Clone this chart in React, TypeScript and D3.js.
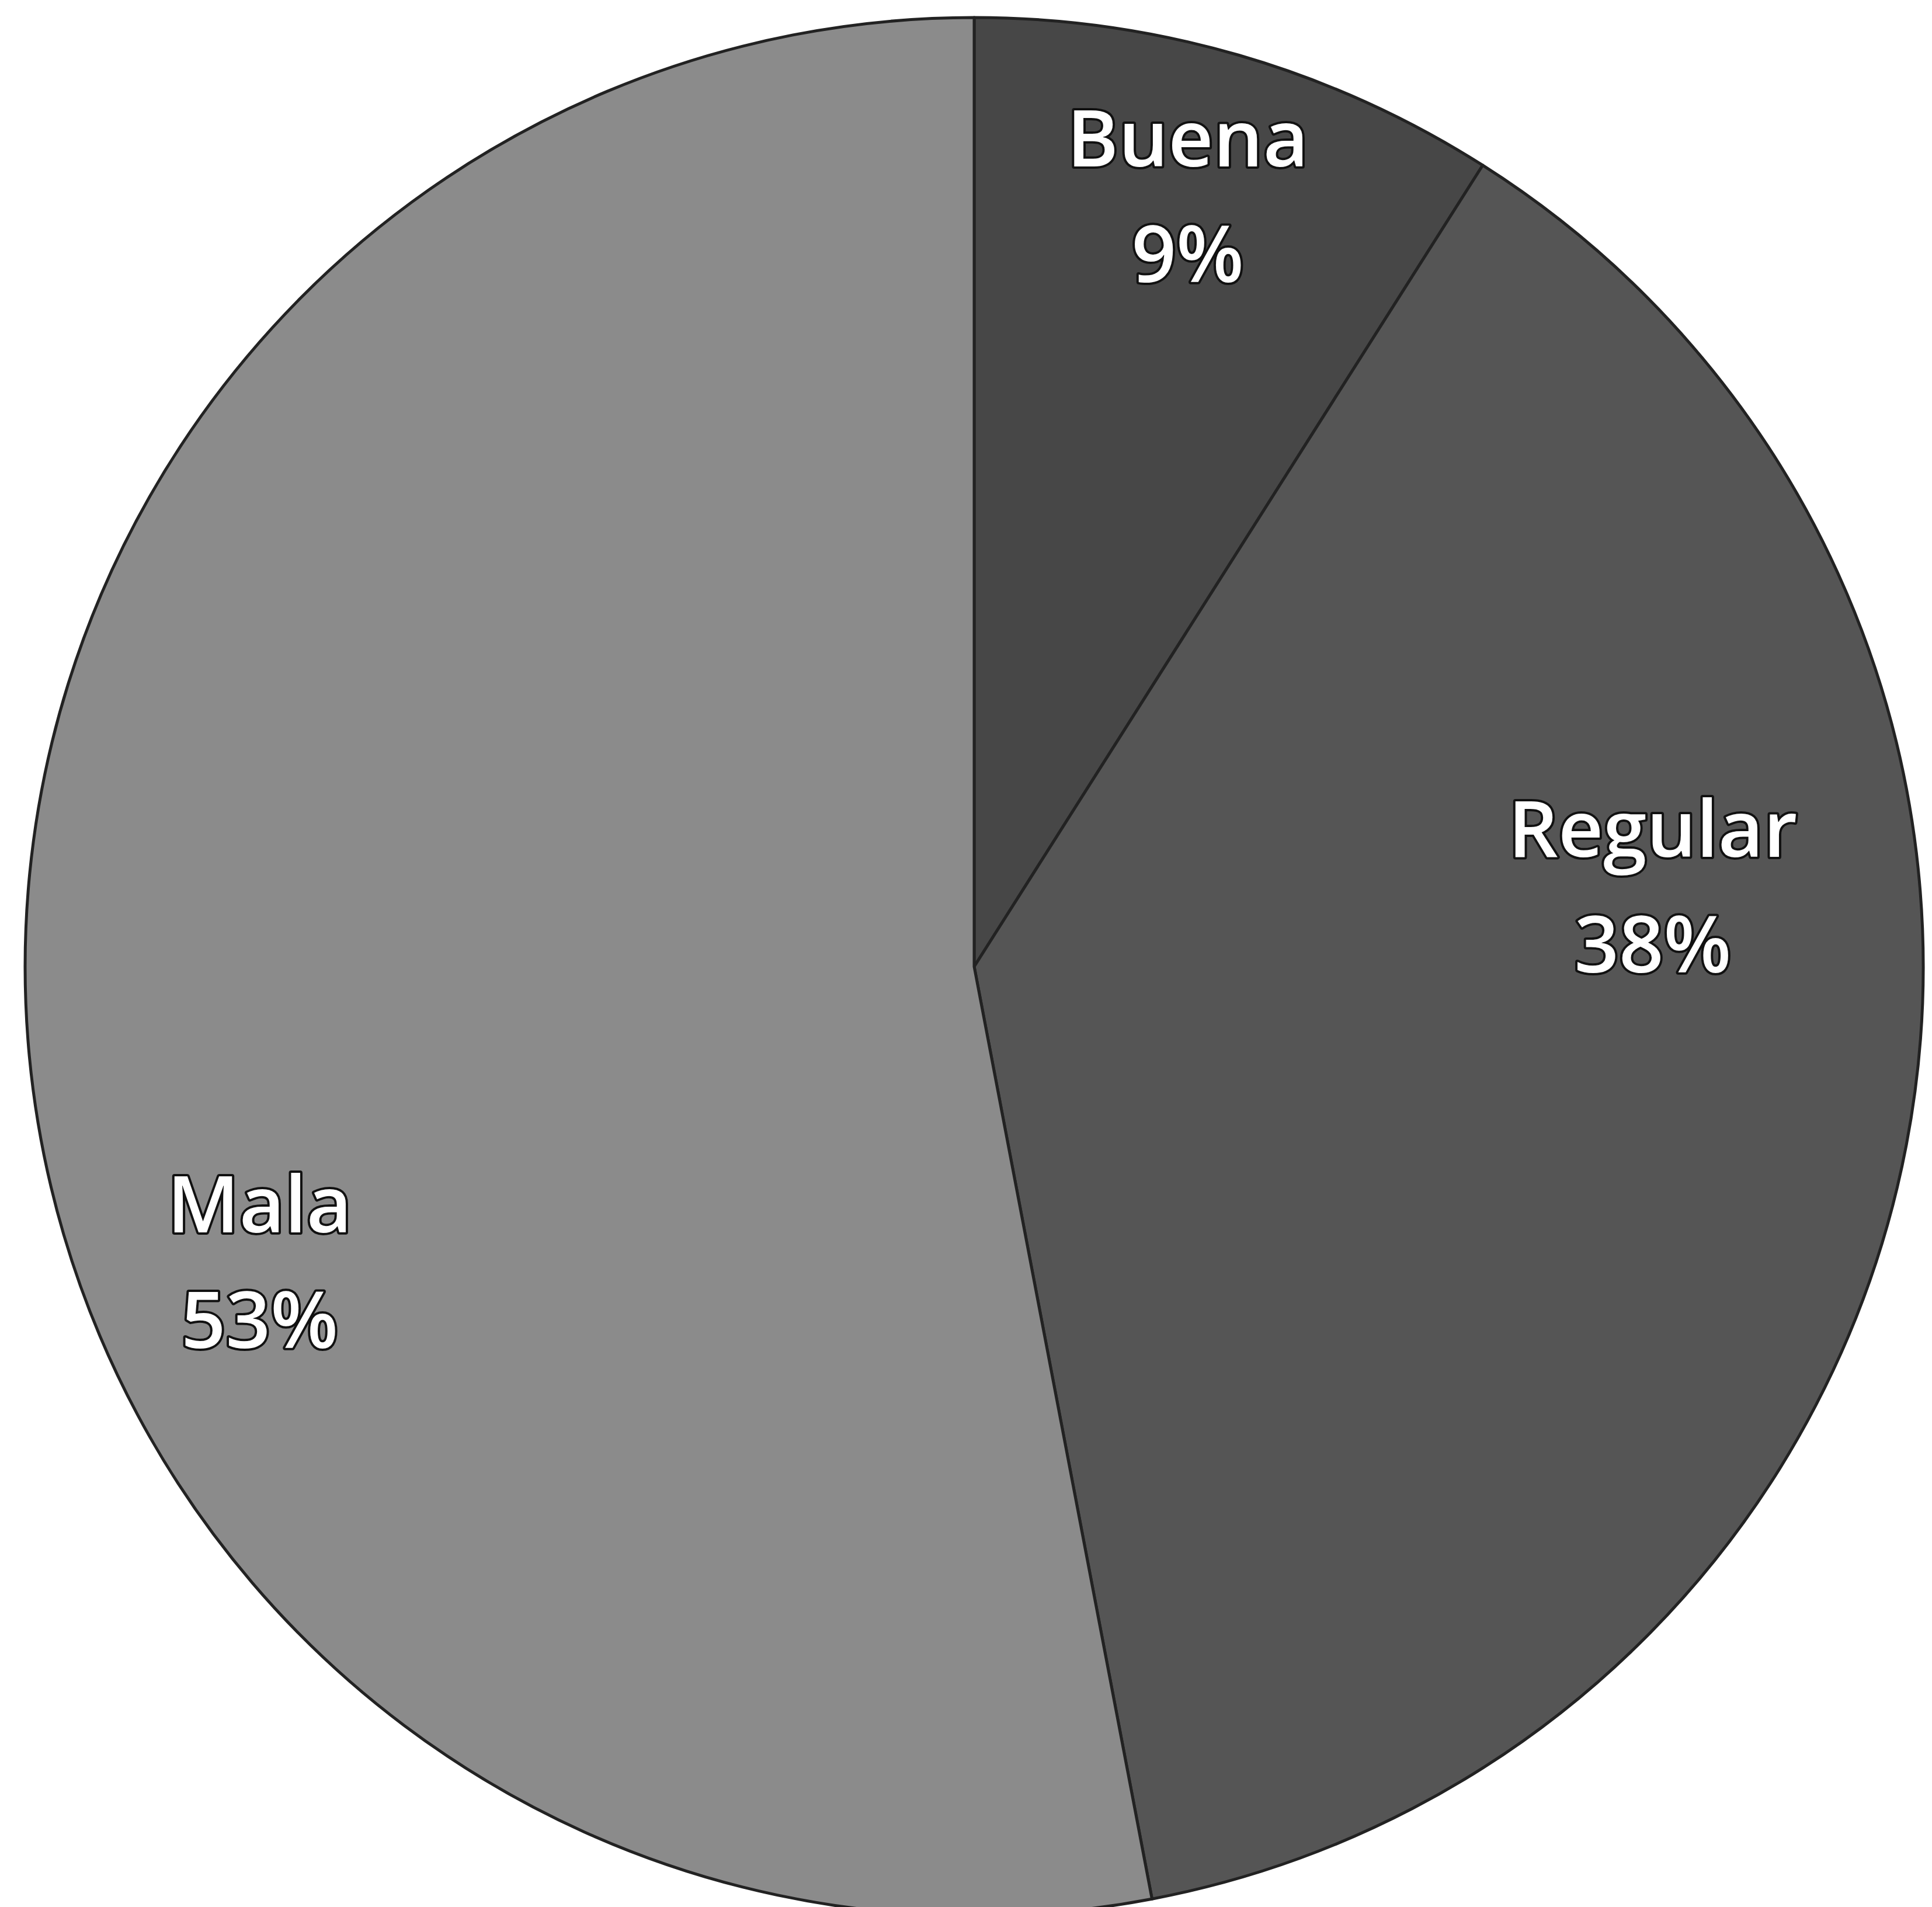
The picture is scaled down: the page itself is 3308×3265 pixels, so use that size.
import React from "react";
import * as d3 from "d3";

const categories = ["Buena", "Regular", "Mala"];
const values = [9, 38, 53];
const percentLabels = ["9%", "38%", "53%"];
const colors = ["#474747", "#555555", "#8b8b8b"];

// label layout (offset of first baseline from pie centre, as fraction of radius)
const labelOffsets = [
  [0.225, -0.843],
  [0.715, -0.116],
  [-0.753, 0.28],
];

const W = 3308;
const H = 3265;
const CX = 1668;
const CY = 1655;
const R = 1625;

export default function App() {
  const pie = d3.pie<number>().sort(null).value((d) => d);
  const arcs = pie(values);
  const arc = d3.arc<d3.PieArcDatum<number>>().innerRadius(0).outerRadius(R);
  const fontSize = 134;
  const lineGap = 198;

  return (
    <svg
      width={W}
      height={H}
      style={{ position: "absolute", left: 0, top: 0, background: "#ffffff" }}
    >
      <g transform={`translate(${CX},${CY})`}>
        {arcs.map((a, i) => (
          <path
            key={categories[i]}
            d={arc(a) || ""}
            fill={colors[i]}
            stroke="#222222"
            strokeWidth={5}
            strokeLinejoin="round"
          />
        ))}
        {arcs.map((a, i) => {
          const [fx, fy] = labelOffsets[i];
          const x = fx * R;
          const y = fy * R;
          return (
            <text
              key={"l" + i}
              x={x}
              y={y}
              textAnchor="middle"
              fontFamily="'Open Sans', 'Noto Sans', sans-serif"
              fontWeight={600}
              fontSize={fontSize}
              fill="#ffffff"
              stroke="#111111"
              strokeWidth={8}
              paintOrder="stroke"
              strokeLinejoin="round"
            >
              <tspan x={x} y={y}>
                {categories[i]}
              </tspan>
              <tspan x={x} y={y + lineGap}>
                {percentLabels[i]}
              </tspan>
            </text>
          );
        })}
      </g>
    </svg>
  );
}
